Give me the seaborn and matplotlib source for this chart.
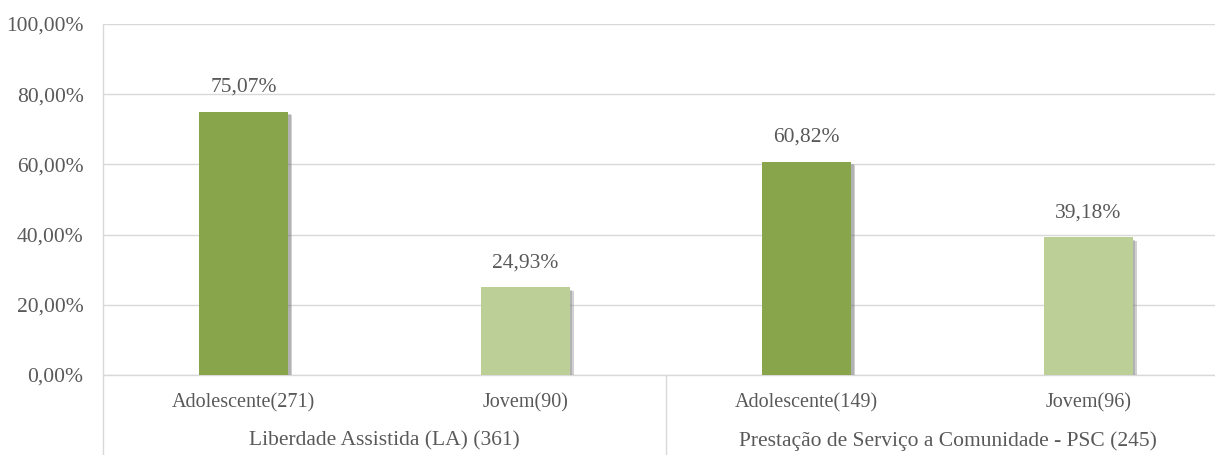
import matplotlib
matplotlib.use("Agg")
import matplotlib.pyplot as plt
import matplotlib.patheffects as pe
import seaborn as sns
import pandas as pd

# Data
groups = ["Liberdade Assistida (LA) (361)", "Prestação de Serviço a Comunidade - PSC (245)"]
categories = ["Adolescente(271)", "Jovem(90)", "Adolescente(149)", "Jovem(96)"]
kinds = ["Adolescente", "Jovem", "Adolescente", "Jovem"]
values = [75.07, 24.93, 60.82, 39.18]
yticks = [0, 20, 40, 60, 80, 100]

df = pd.DataFrame({"cat": categories, "kind": kinds, "val": values})

sns.set_theme(style="white")
plt.rcParams["font.family"] = ["Liberation Serif", "DejaVu Serif"]
text_color = "#595959"
grid_color = "#D9D9D9"

fig = plt.figure(figsize=(12.15, 4.55), dpi=100)
ax = fig.add_axes([103 / 1215, 80 / 455, 1126 / 1215, 351 / 455])

sns.barplot(data=df, x="cat", y="val", hue="kind", order=categories,
            palette={"Adolescente": "#89A54C", "Jovem": "#BBCF97"},
            dodge=False, width=0.316, legend=False, ax=ax, saturation=1,
            linewidth=0, edgecolor="none")

for p in ax.patches:
    p.set_linewidth(0)
    p.set_path_effects([pe.SimplePatchShadow(offset=(3, -2.5), shadow_rgbFace="#7a7a7a", alpha=0.35),
                        pe.SimplePatchShadow(offset=(1.8, -1.5), shadow_rgbFace="#7a7a7a", alpha=0.35),
                        pe.Normal()])
    p.set_zorder(3)

for i, v in enumerate(values):
    ax.annotate(f"{v:.2f}%".replace(".", ","), xy=(i, v), xytext=(0, 11),
                textcoords="offset points", ha="center", va="bottom",
                fontsize=15.5, color=text_color)

ax.set_ylim(0, 100)
ax.set_xlim(-0.5, 3.5)
ax.set_yticks(yticks)
ax.set_yticklabels([f"{t:.2f}%".replace(".", ",") for t in yticks], fontsize=15.5, color=text_color)
ax.tick_params(axis="y", length=0, pad=14)
ax.set_xticks([])
ax.set_xlabel("")
ax.set_ylabel("")
ax.yaxis.grid(True, color=grid_color, linewidth=1)
ax.set_axisbelow(True)
for s in ["top", "right", "left"]:
    ax.spines[s].set_visible(False)
ax.spines["bottom"].set_color(grid_color)
ax.spines["bottom"].set_linewidth(1)

xt = ax.get_xaxis_transform()
for i, c in enumerate(categories):
    ax.text(i, -0.08, c, transform=xt, ha="center", va="center", fontsize=14.5, color=text_color)
for gi, g in enumerate(groups):
    ax.text(0.5 + 2 * gi, -0.188, g, transform=xt, ha="center", va="center", fontsize=15.5, color=text_color)

ax.plot([-0.5, -0.5], [-0.23, 1.0], transform=xt, color=grid_color, lw=1, clip_on=False)
ax.plot([1.5, 1.5], [-0.23, 0.0], transform=xt, color=grid_color, lw=1, clip_on=False)

fig.savefig("out.png", dpi=100)
